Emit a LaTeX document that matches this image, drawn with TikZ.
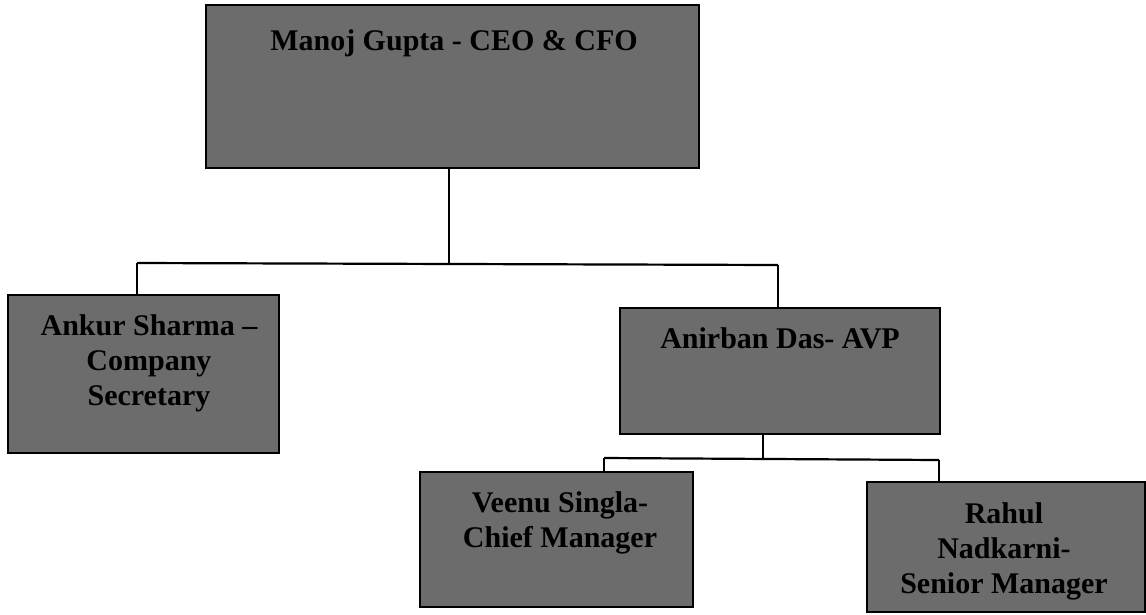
\documentclass[tikz,border=0pt]{standalone}
\usepackage{fontspec}
\setmainfont{Liberation Serif}
\definecolor{boxfill}{RGB}{108,108,108}
\begin{document}
\begin{tikzpicture}[x=1pt,y=1pt,
  orgbox/.style={draw=black, line width=2pt, fill=boxfill, rectangle, inner sep=0pt},
  lbl/.style={anchor=north, inner sep=0pt, align=center, text=black,
    font=\bfseries\fontsize{30}{35}\selectfont},
  conn/.style={draw=black, line width=2.2pt}]
\useasboundingbox (0,0) rectangle (1146,-614);
% boxes
\node[orgbox, minimum width=493pt, minimum height=163pt] (top) at (452.5,-86.5) {};
\node[orgbox, minimum width=271pt, minimum height=158pt] (ank) at (143.5,-374) {};
\node[orgbox, minimum width=320pt, minimum height=126pt] (avp) at (780,-371) {};
\node[orgbox, minimum width=273pt, minimum height=135pt] (vee) at (556.5,-539.5) {};
\node[orgbox, minimum width=278pt, minimum height=130pt] (rah) at (1006,-547) {};
% labels
\node[lbl] (tTop) at (454,-28) {\rule{0pt}{22pt}Manoj Gupta - CEO \& CFO};
\node[lbl] (tAnk) at (149,-313) {\rule{0pt}{22pt}Ankur Sharma --\\Company\\Secretary};
\node[lbl] (tAvp) at (780,-326) {\rule{0pt}{22pt}Anirban Das- AVP};
\node[lbl] (tVee) at (560,-490) {\rule{0pt}{22pt}Veenu Singla-\\Chief Manager};
\node[lbl] (tRah) at (1004,-501) {\rule{0pt}{22pt}Rahul\\Nadkarni-\\Senior Manager};
% connectors level 1
\coordinate (j1) at (449,-263);
\coordinate (dA) at (137,-263);
\coordinate (dB) at (778,-265);
\draw[conn] (top.south -| j1) -- (j1);
\draw[conn] (dA) -- (dB);
\draw[conn] (dA) -- (ank.north -| dA);
\draw[conn] (dB) -- (avp.north -| dB);
% connectors level 2
\coordinate (j2) at (763,-459);
\coordinate (dC) at (604,-458);
\coordinate (dD) at (939,-460);
\draw[conn] (avp.south -| j2) -- (j2);
\draw[conn] (dC) -- (dD);
\draw[conn] (dC) -- (vee.north -| dC);
\draw[conn] (dD) -- (rah.north -| dD);
\end{tikzpicture}
\end{document}
